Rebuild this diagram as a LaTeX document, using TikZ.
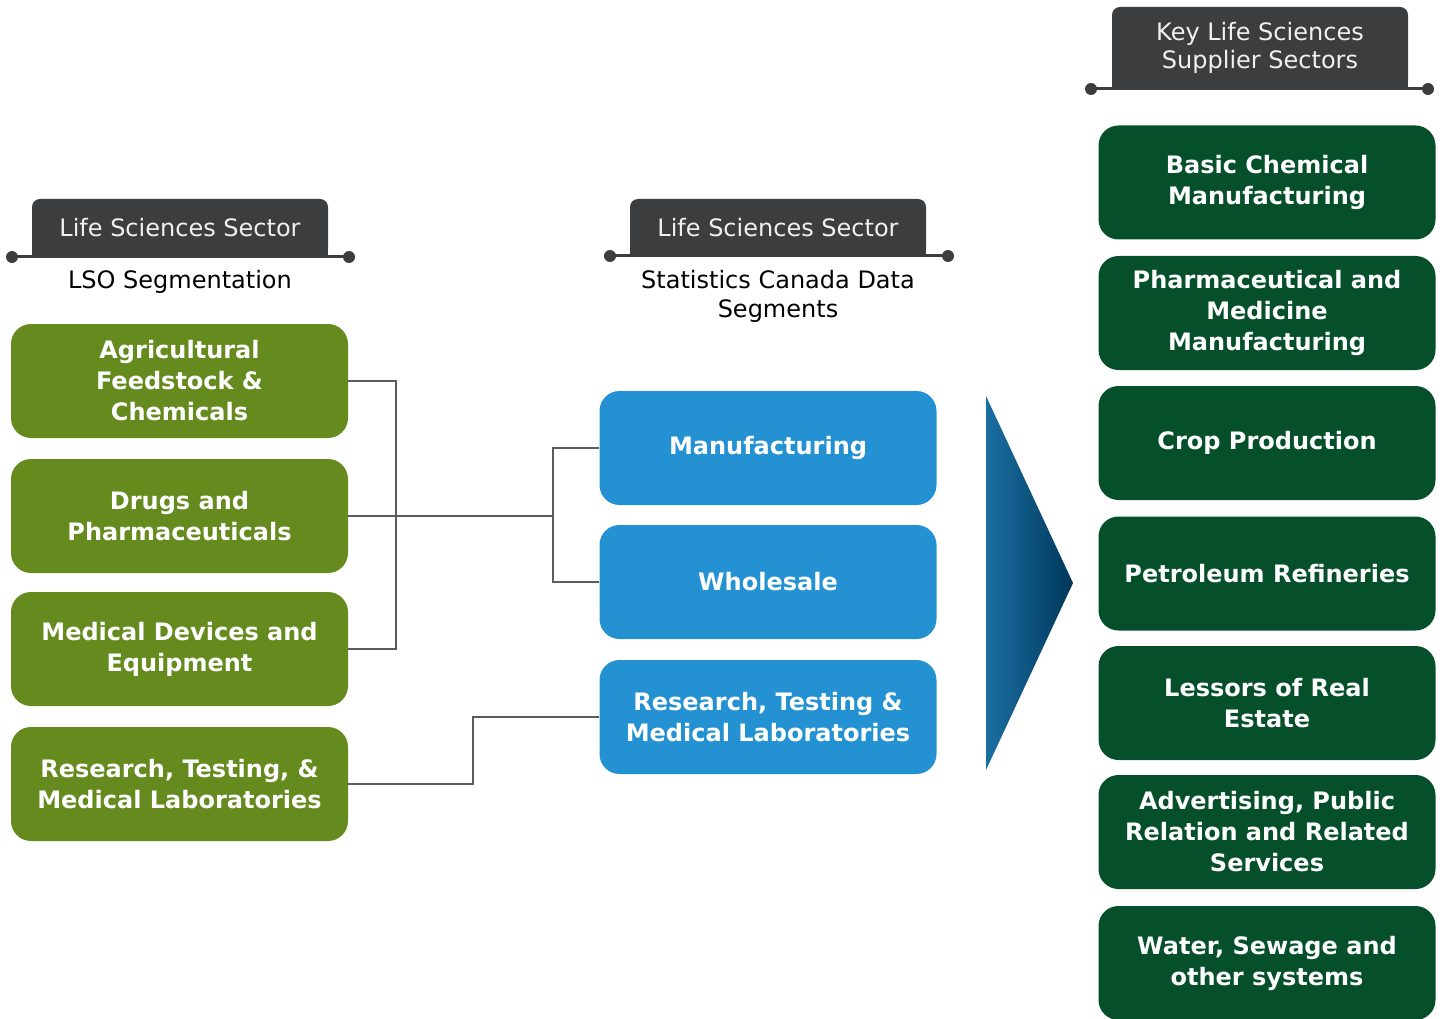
\documentclass[tikz,border=0pt]{standalone}
\usepackage{fontspec}
\setmainfont{DejaVu Sans}
\definecolor{lgreen}{HTML}{658B1F}
\definecolor{dgreen}{HTML}{05502A}
\definecolor{mblue}{HTML}{2492D2}
\definecolor{tabcol}{HTML}{3C3D3F}
\definecolor{conncol}{HTML}{5A5D60}
\definecolor{triA}{HTML}{1B6FA3}
\definecolor{triB}{HTML}{00375A}
\tikzset{
  box/.style={rounded corners=20pt, minimum width=337pt, minimum height=114pt, inner sep=0pt,
    align=center, text=white, font=\fontsize{24}{31}\selectfont\bfseries},
  gbox/.style={box, fill=lgreen},
  bbox/.style={box, fill=mblue},
  dbox/.style={box, fill=dgreen},
  tabbox/.style={rounded corners=8pt, fill=tabcol, inner sep=0pt, align=center,
    text=white!94!black, font=\fontsize{24}{28}\selectfont},
  subtxt/.style={align=center, text=black, font=\fontsize{24}{29}\selectfont, inner sep=0pt},
  tabline/.style={draw=tabcol, line width=3pt},
  conn/.style={draw=conncol, line width=2.5pt},
}
\begin{document}
\begin{tikzpicture}[x=1pt,y=-1pt]
\useasboundingbox (0,0) rectangle (1446,1019);
\clip (0,0) rectangle (1446,1019);

% ---- left header
\fill[tabcol] (32,228) rectangle (328,257);
\node[tabbox, minimum width=296pt, minimum height=58pt] (h1) at (180,228) {Life Sciences Sector};
\coordinate (h1a) at (12,257); \coordinate (h1b) at (349,257);
\draw[tabline] (h1a) -- (h1b);
\fill[tabcol] (h1a) circle (6pt) (h1b) circle (6pt);
\node[subtxt] (s1) at (180,282) {LSO Segmentation};

% ---- middle header
\fill[tabcol] (630,228) rectangle (926,256);
\node[tabbox, minimum width=296pt, minimum height=57pt] (h2) at (778,227.5) {Life Sciences Sector};
\coordinate (h2a) at (610,256); \coordinate (h2b) at (948,256);
\draw[tabline] (h2a) -- (h2b);
\fill[tabcol] (h2a) circle (6pt) (h2b) circle (6pt);
\node[subtxt] (s2) at (778,296.5) {Statistics Canada Data\\Segments};

% ---- right header
\fill[tabcol] (1112,50) rectangle (1408,89);
\node[tabbox, minimum width=296pt, minimum height=82pt] (h3) at (1260,48) {Key Life Sciences\\Supplier Sectors};
\coordinate (h3a) at (1091,89); \coordinate (h3b) at (1428,89);
\draw[tabline] (h3a) -- (h3b);
\fill[tabcol] (h3a) circle (6pt) (h3b) circle (6pt);

% ---- left boxes
\node[gbox] (g1) at (179.5,381) {Agricultural\\Feedstock \&\\Chemicals};
\node[gbox] (g2) at (179.5,516) {Drugs and\\Pharmaceuticals};
\node[gbox] (g3) at (179.5,649) {Medical Devices and\\Equipment};
\node[gbox] (g4) at (179.5,784) {Research, Testing, \&\\Medical Laboratories};

% ---- middle boxes
\node[bbox] (b1) at (768,448) {Manufacturing};
\node[bbox] (b2) at (768,582) {Wholesale};
\node[bbox] (b3) at (768,717) {Research, Testing \&\\Medical Laboratories};

% ---- right boxes
\node[dbox] (r1) at (1267,182.5) {Basic Chemical\\Manufacturing};
\node[dbox] (r2) at (1267,313) {Pharmaceutical and\\Medicine\\Manufacturing};
\node[dbox] (r3) at (1267,443) {Crop Production};
\node[dbox] (r4) at (1267,573.5) {Petroleum Refineries};
\node[dbox] (r5) at (1267,703) {Lessors of Real\\Estate};
\node[dbox] (r6) at (1267,832) {Advertising, Public\\Relation and Related\\Services};
\node[dbox] (r7) at (1267,963) {Water, Sewage and\\other systems};

% ---- connectors
\coordinate (jl) at (396,516);
\coordinate (jm) at (553,516);
\coordinate (jb) at (473,750);
\draw[conn] (g1.east) -| (jl) |- (g3.east);
\draw[conn] (g2.east) -- (jm);
\draw[conn] (b1.west) -| (jm) |- (b2.west);
\draw[conn] (g4.east) -| (jb) |- (b3.west);

% ---- arrow triangle
\shade[left color=triA, right color=triB] (986,396) -- (1073,583) -- (986,770) -- cycle;
\end{tikzpicture}
\end{document}
